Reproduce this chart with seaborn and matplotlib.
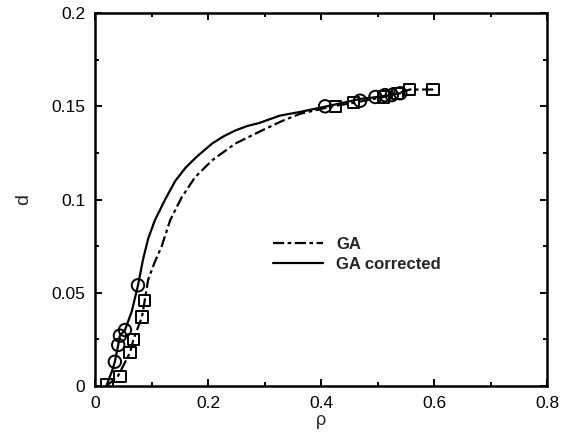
import matplotlib
matplotlib.use('Agg')
import matplotlib.pyplot as plt
import seaborn as sns
import pandas as pd
from matplotlib.ticker import MultipleLocator

# GA curve (dash-dot)
ga_rho = [0.02, 0.04, 0.062, 0.068, 0.083, 0.088, 0.094, 0.105, 0.118, 0.133, 0.153,
          0.177, 0.207, 0.248, 0.295, 0.33, 0.363, 0.42, 0.46, 0.51, 0.535, 0.557, 0.60]
ga_d = [0.0, 0.005, 0.018, 0.025, 0.037, 0.046, 0.057, 0.066, 0.075, 0.089, 0.101,
        0.112, 0.121, 0.130, 0.137, 0.142, 0.146, 0.150, 0.152, 0.155, 0.157, 0.159, 0.159]

# GA corrected curve (solid)
gac_rho = [0.02, 0.03, 0.035, 0.041, 0.044, 0.053, 0.065, 0.076, 0.085, 0.094, 0.106,
           0.124, 0.142, 0.160, 0.180, 0.207, 0.228, 0.248, 0.27, 0.29, 0.327, 0.363,
           0.41, 0.47, 0.50, 0.54]
gac_d = [0.0, 0.008, 0.013, 0.022, 0.027, 0.030, 0.040, 0.054, 0.068, 0.079, 0.089,
         0.100, 0.110, 0.117, 0.123, 0.130, 0.134, 0.137, 0.1395, 0.141, 0.145, 0.147,
         0.150, 0.154, 0.155, 0.157]

# simulation points
circ_rho = [0.035, 0.041, 0.044, 0.053, 0.076, 0.407, 0.469, 0.496, 0.513, 0.525, 0.54]
circ_d = [0.013, 0.022, 0.027, 0.030, 0.054, 0.150, 0.153, 0.155, 0.156, 0.156, 0.157]
sq_rho = [0.021, 0.044, 0.062, 0.068, 0.083, 0.088, 0.425, 0.457, 0.51, 0.535, 0.557, 0.598]
sq_d = [0.001, 0.005, 0.018, 0.025, 0.037, 0.046, 0.150, 0.152, 0.155, 0.157, 0.159, 0.159]

x_ticks = [0, 0.2, 0.4, 0.6, 0.8]
x_labels = ['0', '0.2', '0.4', '0.6', '0.8']
y_ticks = [0, 0.05, 0.1, 0.15, 0.2]
y_labels = ['0', '0.05', '0.1', '0.15', '0.2']

sns.set_theme(style='ticks')
plt.rcParams['font.family'] = ['Liberation Sans', 'DejaVu Sans']

fig = plt.figure(figsize=(5.76, 4.45), dpi=100)
ax = fig.add_axes([0.165, 0.1326, 0.785, 0.838])

ga = pd.DataFrame({'rho': ga_rho, 'd': ga_d})
gac = pd.DataFrame({'rho': gac_rho, 'd': gac_d})

sns.lineplot(data=ga, x='rho', y='d', ax=ax, color='black', lw=1.6, sort=False,
             estimator=None, label='GA')
ax.lines[-1].set_dashes([5, 1.6, 1.6, 1.6])
sns.lineplot(data=gac, x='rho', y='d', ax=ax, color='black', lw=1.6, sort=False,
             estimator=None, label='GA corrected')

sns.scatterplot(x=circ_rho, y=circ_d, ax=ax, marker='o', s=80, facecolor='none',
                edgecolor='black', linewidth=1.4, zorder=3)
sns.scatterplot(x=sq_rho, y=sq_d, ax=ax, marker='s', s=65, facecolor='none',
                edgecolor='black', linewidth=1.4, zorder=3)

ax.set_xlim(0, 0.8)
ax.set_ylim(0, 0.2)
ax.set_xticks(x_ticks)
ax.set_xticklabels(x_labels)
ax.set_yticks(y_ticks)
ax.set_yticklabels(y_labels)
ax.xaxis.set_minor_locator(MultipleLocator(0.1))
ax.yaxis.set_minor_locator(MultipleLocator(0.025))
ax.tick_params(which='both', direction='in', top=True, right=True, width=1.4,
               labelsize=12.5, colors='black')
ax.tick_params(which='major', length=5, pad=7)
ax.tick_params(which='minor', length=3)
for s in ax.spines.values():
    s.set_linewidth(1.8)
    s.set_color('black')

ax.set_xlabel('ρ', fontsize=13, labelpad=1)
ax.set_ylabel('d', fontsize=14, labelpad=14)

ax.legend(loc='upper left', bbox_to_anchor=(0.36, 0.44), frameon=False,
          handlelength=3.0, prop={'weight': 'bold', 'size': 12}, labelspacing=0.3)

fig.savefig('out.png', dpi=100, facecolor='white')
